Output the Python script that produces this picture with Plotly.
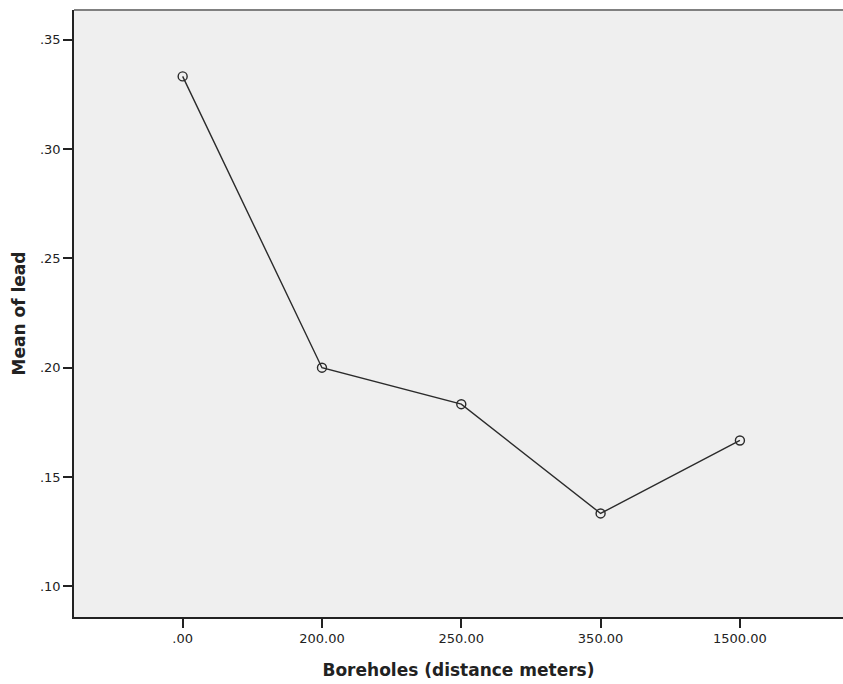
import plotly.graph_objects as go

categories = [".00", "200.00", "250.00", "350.00", "1500.00"]
mean_lead = [0.3333, 0.2000, 0.1833, 0.1333, 0.1667]
y_ticks = [0.10, 0.15, 0.20, 0.25, 0.30, 0.35]
y_tick_labels = [".10", ".15", ".20", ".25", ".30", ".35"]

fig = go.Figure()
fig.add_trace(go.Scatter(
    x=list(range(len(categories))),
    y=mean_lead,
    mode="lines+markers",
    line=dict(color="#2b2b2b", width=1.4),
    marker=dict(symbol="circle-open", size=9, color="#2b2b2b", line=dict(width=1.4)),
    showlegend=False,
))

fig.update_layout(
    width=843, height=684,
    margin=dict(l=74, r=0, t=10, b=67),
    paper_bgcolor="white",
    plot_bgcolor="#efefef",
    font=dict(family="DejaVu Sans, Arial, sans-serif", size=13, color="#222"),
    xaxis=dict(
        tickmode="array",
        tickvals=list(range(len(categories))),
        ticktext=categories,
        range=[-0.78, 4.74],
        showgrid=False, zeroline=False,
        showline=True, linecolor="#222", linewidth=1.5,
        ticks="outside", ticklen=9, tickwidth=1.5, tickcolor="#222",
        title=dict(text="<b>Boreholes (distance meters)</b>", font=dict(size=17), standoff=19),
    ),
    yaxis=dict(
        tickmode="array",
        tickvals=y_ticks,
        ticktext=y_tick_labels,
        range=[0.0859, 0.3637],
        showgrid=False, zeroline=False,
        showline=True, linecolor="#222", linewidth=1.5,
        ticks="outside", ticklen=9, tickwidth=1.5, tickcolor="#222",
        title=dict(text="<b>Mean of lead</b>", font=dict(size=17), standoff=10),
    ),
    shapes=[dict(type="line", xref="paper", yref="paper", x0=0, x1=1, y0=1, y1=1,
                 line=dict(color="#808080", width=2))],
)

fig.write_html("out.html", config={"displayModeBar": False},
               post_script="document.body.style.margin='0px';document.body.style.overflow='hidden';")
